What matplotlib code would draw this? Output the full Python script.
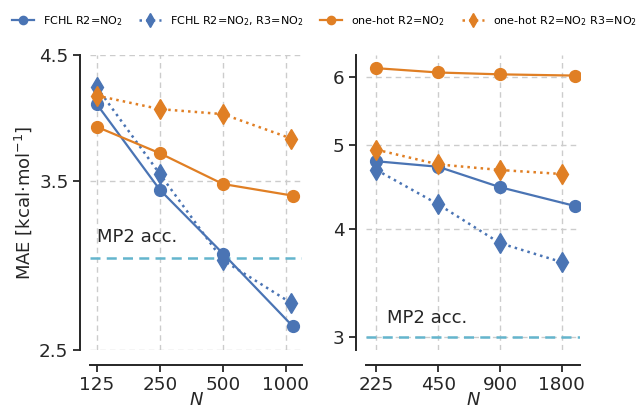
import matplotlib
matplotlib.use("Agg")
import matplotlib.pyplot as plt
from matplotlib.ticker import NullLocator, FixedLocator, FixedFormatter

# left panel data
n_left = [125, 250, 500, 1080]
n_left_d = [125, 250, 500, 1060]
fchl_left = [4.08, 3.44, 3.03, 2.62]
fchl2_left = [4.22, 3.55, 2.99, 2.745]
onehot_left = [3.90, 3.70, 3.48, 3.40]
onehot2_left = [4.15, 4.04, 4.00, 3.81]

# right panel data
n_right = [225, 450, 900, 2100]
n_right_d = [225, 450, 900, 1800]
fchl_right = [4.79, 4.72, 4.47, 4.25]
fchl2_right = [4.68, 4.27, 3.85, 3.66]
onehot_right = [6.14, 6.07, 6.04, 6.02]
onehot2_right = [4.94, 4.75, 4.68, 4.63]

mp2 = 3.0

left_xticks = [125, 250, 500, 1000]
left_yticks = [2.5, 3.5, 4.5]
right_xticks = [225, 450, 900, 1800]
right_yticks = [3, 4, 5, 6]

labels = ["FCHL R2=NO$_2$", "FCHL R2=NO$_2$, R3=NO$_2$",
          "one-hot R2=NO$_2$", "one-hot R2=NO$_2$ R3=NO$_2$"]

blue = "#4a74b4"
orange = "#e07f24"
cyan = "#64b5cd"
dark = "#262626"

fig = plt.figure(figsize=(6.41, 4.12), dpi=100)
ax1 = fig.add_axes([90 / 641, 62 / 412, 212 / 641, 295 / 412])
ax2 = fig.add_axes([366 / 641, 62 / 412, 214 / 641, 295 / 412])


def draw(ax, n, nd, a, b, c, d):
    h = []
    h += ax.plot(n, a, "-o", color=blue, lw=1.6, ms=8.5, label=labels[0])
    h += ax.plot(nd, b, ":d", color=blue, lw=1.8, ms=10, label=labels[1])
    h += ax.plot(n, c, "-o", color=orange, lw=1.6, ms=8.5, label=labels[2])
    h += ax.plot(nd, d, ":d", color=orange, lw=1.8, ms=10, label=labels[3])
    ax.axhline(mp2, color=cyan, ls=(0, (4, 2.5)), lw=1.8, zorder=1)
    return h


handles = draw(ax1, n_left, n_left_d, fchl_left, fchl2_left, onehot_left, onehot2_left)
draw(ax2, n_right, n_right_d, fchl_right, fchl2_right, onehot_right, onehot2_right)

for ax, xt, yt, xl, yl in [(ax1, left_xticks, left_yticks, (116, 1193), (2.5, 4.5)),
                           (ax2, right_xticks, right_yticks, (200, 2210), (2.895, 6.36))]:
    ax.set_xscale("log")
    ax.set_yscale("log")
    ax.set_xlim(*xl)
    ax.set_ylim(*yl)
    ax.xaxis.set_major_locator(FixedLocator(xt))
    ax.xaxis.set_major_formatter(FixedFormatter([str(v) for v in xt]))
    ax.yaxis.set_major_locator(FixedLocator(yt))
    ax.yaxis.set_major_formatter(FixedFormatter([str(v) for v in yt]))
    ax.xaxis.set_minor_locator(NullLocator())
    ax.yaxis.set_minor_locator(NullLocator())
    ax.grid(True, color="#cccccc", ls=(0, (4, 3)), lw=1.0)
    ax.set_axisbelow(True)
    for s in ["top", "right"]:
        ax.spines[s].set_visible(False)
    ax.spines["left"].set_position(("outward", 7.5))
    ax.spines["bottom"].set_position(("outward", 10.5))
    for s in ["left", "bottom"]:
        ax.spines[s].set_linewidth(1.4)
        ax.spines[s].set_color(dark)
    ax.tick_params(labelsize=13.2, length=5, width=1.3, colors=dark, pad=3)
    ax.set_xlabel("$N$", fontsize=13, labelpad=-2, color=dark)

ax1.set_ylabel(r"MAE [kcal$\cdot$mol$^{-1}$]", fontsize=13, color=dark, labelpad=4)
ax1.text(125, 3.13, "MP2 acc.", fontsize=13, va="center", ha="left", color=dark)
ax2.text(252, 3.15, "MP2 acc.", fontsize=13, va="center", ha="left", color=dark)

fig.legend(handles=handles, loc="upper center", bbox_to_anchor=(0.506, 0.99), ncol=4,
           frameon=False, fontsize=8, markerscale=0.7, columnspacing=1.5)

fig.savefig("out.png", dpi=100)
